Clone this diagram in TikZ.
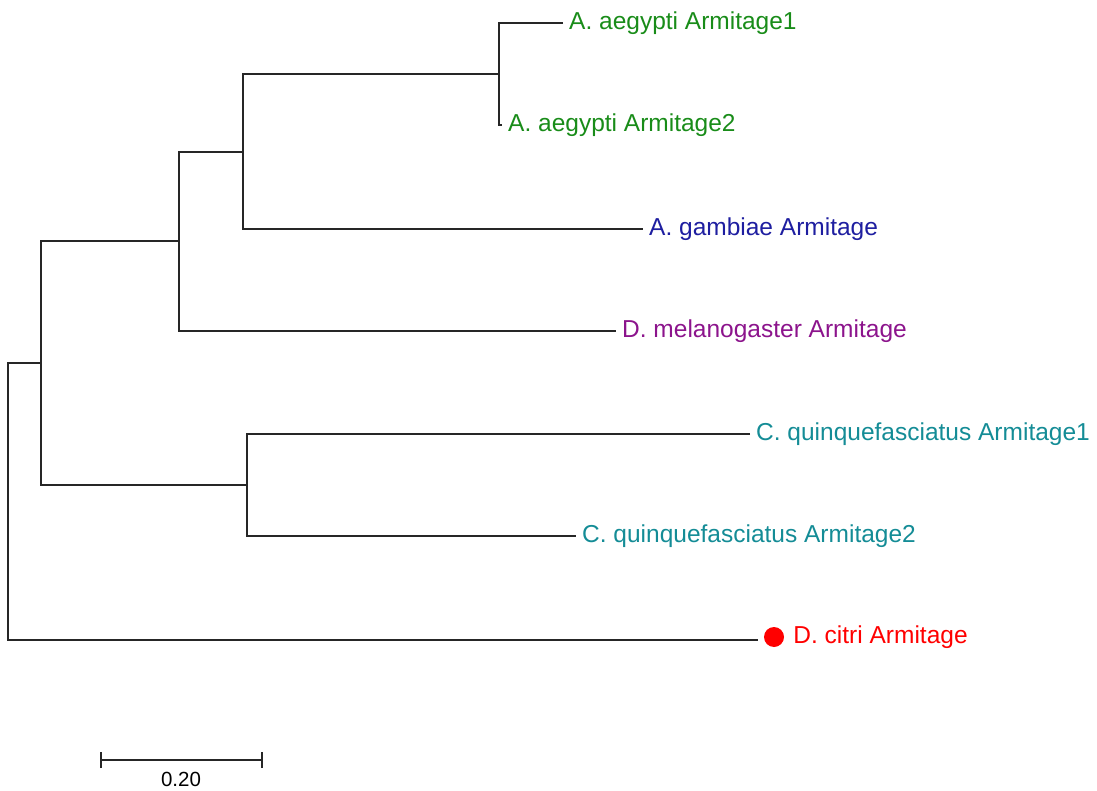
\documentclass[tikz,border=0pt]{standalone}
\usepackage{fontspec}
\setmainfont{Liberation Sans}
\definecolor{aegcol}{RGB}{25,140,25}
\definecolor{gamcol}{RGB}{30,30,160}
\definecolor{melcol}{RGB}{140,20,140}
\definecolor{quicol}{RGB}{20,140,150}
\definecolor{citcol}{RGB}{255,0,0}
\tikzset{
  branch/.style={draw=black!85, line width=1.4pt, line join=miter},
  taxon/.style={anchor=mid west, inner xsep=6pt, inner ysep=0pt, yshift=-3.5pt,
    font=\fontsize{24.5}{29}\selectfont},
  barlabel/.style={font=\fontsize{20.5}{24}\selectfont, inner sep=0pt},
}
\begin{document}
\begin{tikzpicture}[x=1pt, y=-1pt]
\useasboundingbox (0,0) rectangle (1097,791);

% internal nodes of the tree
\coordinate (r)  at (8,501);
\coordinate (n1) at (41,363);
\coordinate (n2) at (179,241);
\coordinate (n3) at (243,152);
\coordinate (n4) at (499,74);
\coordinate (n5) at (247,485);

% branch tips
\coordinate (ta1) at (563,23);
\coordinate (ta2) at (502,125);
\coordinate (tga) at (643,229);
\coordinate (tme) at (616,331);
\coordinate (tq1) at (750,434);
\coordinate (tq2) at (576,536);
\coordinate (tci) at (758,640);

% taxon labels
\node[taxon, text=aegcol] (la1) at (ta1) {A. aegypti Armitage1};
\node[taxon, text=aegcol] (la2) at (ta2) {A. aegypti Armitage2};
\node[taxon, text=gamcol] (lga) at (tga) {A. gambiae Armitage};
\node[taxon, text=melcol] (lme) at (tme) {D. melanogaster Armitage};
\node[taxon, text=quicol] (lq1) at (tq1) {C. quinquefasciatus Armitage1};
\node[taxon, text=quicol] (lq2) at (tq2) {C. quinquefasciatus Armitage2};
\node[circle, fill=citcol, minimum size=20pt, inner sep=0pt] (dot) at (774,637) {};
\node[taxon, text=citcol, inner xsep=9pt] (lci) at (dot.east) {D. citri Armitage};

% branches
\path[branch] (ta1) -| (n4) |- (ta2);
\path[branch] (n4) -| (n3) |- (tga);
\path[branch] (n3) -| (n2) |- (tme);
\path[branch] (tq1) -| (n5) |- (tq2);
\path[branch] (n2) -| (n1) |- (n5);
\path[branch] (n1) -| (r) |- (tci);

% scale bar
\coordinate (sbl) at (101,760);
\coordinate (sbr) at (262,760);
\path[branch] (sbl) -- (sbr);
\path[branch] ([yshift=-8pt]sbl) -- ([yshift=8pt]sbl);
\path[branch] ([yshift=-8pt]sbr) -- ([yshift=8pt]sbr);
\node[barlabel] (sbt) at (181,779) {0.20};
\end{tikzpicture}
\end{document}
